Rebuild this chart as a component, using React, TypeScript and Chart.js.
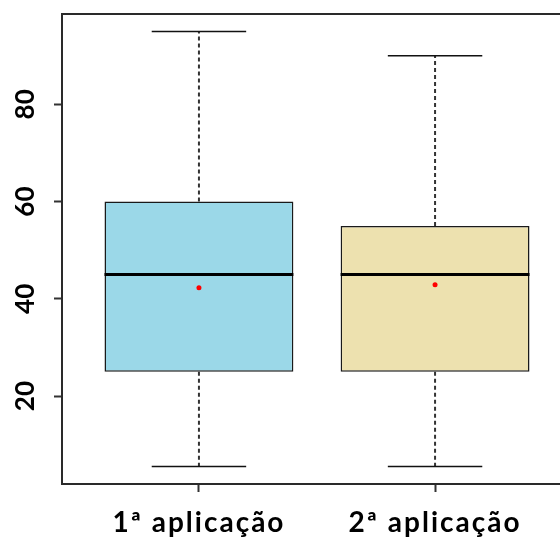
import { useEffect, useRef } from "react";
import { Chart, registerables } from "chart.js";

Chart.register(...registerables);

// Five-number summaries for each application
const categories = ["1ª aplicação", "2ª aplicação"];
const whiskerLow = [5.5, 5.5];
const q1 = [25, 25];
const medians = [45, 45];
const q3 = [60, 55];
const whiskerHigh = [95, 90];
const means = [42.3, 42.9];
const yTicks = [20, 40, 60, 80];
const boxColors = ["#9BD8E8", "#EDE1AF"];

const positions = categories.map((_, i) => i + 1);

// R-style axis limits: data range widened by 4%
const yLo = Math.min(...whiskerLow);
const yHi = Math.max(...whiskerHigh);
const yPad = 0.04 * (yHi - yLo);
const xLo = 0.5;
const xHi = categories.length + 0.5;
const xPad = 0.04 * (xHi - xLo);

const FONT = "Lato, 'Open Sans', sans-serif";

const boxExtras = {
  id: "boxExtras",
  beforeDraw(chart: any) {
    // widen the spacing of the category labels
    const xs = chart.scales.x;
    if (xs && !xs.__spaced) {
      const orig = xs.drawLabels.bind(xs);
      xs.drawLabels = (area: any) => {
        const c = xs.ctx;
        c.save();
        c.letterSpacing = "2px";
        orig(area);
        c.restore();
      };
      xs.__spaced = true;
    }
  },
  afterDatasetsDraw(chart: any) {
    const { ctx, scales } = chart;
    const xs = scales.x;
    const ys = scales.y;
    ctx.save();
    positions.forEach((p, i) => {
      const cx = xs.getPixelForValue(p);
      const capL = xs.getPixelForValue(p - 0.2);
      const capR = xs.getPixelForValue(p + 0.2);
      const boxL = xs.getPixelForValue(p - 0.4);
      const boxR = xs.getPixelForValue(p + 0.4);
      // dashed whiskers
      ctx.strokeStyle = "#333";
      ctx.lineWidth = 2;
      ctx.setLineDash([4, 3]);
      ctx.beginPath();
      ctx.moveTo(cx, ys.getPixelForValue(q3[i]));
      ctx.lineTo(cx, ys.getPixelForValue(whiskerHigh[i]));
      ctx.moveTo(cx, ys.getPixelForValue(q1[i]));
      ctx.lineTo(cx, ys.getPixelForValue(whiskerLow[i]));
      ctx.stroke();
      // staples
      ctx.setLineDash([]);
      ctx.strokeStyle = "#111";
      ctx.lineWidth = 1.5;
      ctx.beginPath();
      const yTop = ys.getPixelForValue(whiskerHigh[i]);
      const yBot = ys.getPixelForValue(whiskerLow[i]);
      ctx.moveTo(capL, yTop);
      ctx.lineTo(capR, yTop);
      ctx.moveTo(capL, yBot);
      ctx.lineTo(capR, yBot);
      ctx.stroke();
      // median
      ctx.strokeStyle = "#000";
      ctx.lineWidth = 3;
      ctx.beginPath();
      const ym = ys.getPixelForValue(medians[i]);
      ctx.moveTo(boxL, ym);
      ctx.lineTo(boxR, ym);
      ctx.stroke();
    });
    ctx.restore();
  },
  afterDraw(chart: any) {
    const { ctx, chartArea } = chart;
    ctx.save();
    ctx.strokeStyle = "#2a2a2a";
    ctx.lineWidth = 2;
    ctx.strokeRect(
      chartArea.left,
      chartArea.top,
      chartArea.right - chartArea.left,
      chartArea.bottom - chartArea.top
    );
    ctx.restore();
  },
};

export default function App() {
  const ref = useRef<HTMLCanvasElement | null>(null);

  useEffect(() => {
    if (!ref.current) return;
    const chart = new Chart(ref.current, {
      type: "bar",
      data: {
        datasets: [
          {
            type: "scatter",
            data: positions.map((p, i) => ({ x: p, y: means[i] })),
            pointRadius: 2.5,
            pointBackgroundColor: "#ff0000",
            pointBorderWidth: 0,
            order: 0,
          } as any,
          {
            type: "bar",
            data: positions.map((p, i) => ({ x: p, y: [q1[i], q3[i]] })),
            backgroundColor: boxColors,
            borderColor: "#1a1a1a",
            borderWidth: 1.5,
            borderSkipped: false,
            barPercentage: 0.8,
            categoryPercentage: 1,
            order: 1,
          } as any,
        ],
      },
      options: {
        responsive: false,
        animation: false,
        devicePixelRatio: 1,
        layout: { padding: { top: 14, right: 8, left: 0, bottom: 0 } },
        plugins: {
          legend: { display: false },
          tooltip: { enabled: false },
        },
        scales: {
          x: {
            type: "linear",
            offset: false,
            min: xLo - xPad,
            max: xHi + xPad,
            afterBuildTicks: (s: any) => {
              s.ticks = positions.map((v) => ({ value: v }));
            },
            afterFit: (s: any) => {
              s.height = 59;
              s.paddingLeft = 0;
              s.paddingRight = 0;
            },
            border: { display: false },
            grid: {
              offset: false,
              drawOnChartArea: false,
              drawTicks: true,
              tickLength: 8,
              tickColor: "#333",
              tickWidth: 2,
            },
            ticks: {
              padding: 14,
              color: "#000",
              font: { family: FONT, size: 28, weight: "bold" },
              callback: (v: any) => categories[Number(v) - 1] ?? "",
              maxRotation: 0,
              minRotation: 0,
            },
          },
          y: {
            type: "linear",
            min: yLo - yPad,
            max: yHi + yPad,
            afterBuildTicks: (s: any) => {
              s.ticks = yTicks.map((v) => ({ value: v }));
            },
            afterFit: (s: any) => {
              s.width = 62;
              s.paddingTop = 0;
              s.paddingBottom = 0;
            },
            border: { display: false },
            grid: {
              drawOnChartArea: false,
              drawTicks: true,
              tickLength: 8,
              tickColor: "#333",
              tickWidth: 2,
            },
            ticks: {
              padding: 13,
              crossAlign: "center",
              minRotation: 90,
              maxRotation: 90,
              color: "#000",
              font: { family: FONT, size: 26, weight: "bold" },
            },
          },
        },
      },
      plugins: [boxExtras],
    } as any);
    return () => chart.destroy();
  }, []);

  return (
    <div
      style={{
        position: "fixed",
        left: 0,
        top: 0,
        width: 560,
        height: 543,
        overflow: "hidden",
        background: "#fff",
      }}
    >
      <canvas ref={ref} width={580} height={543} />
    </div>
  );
}
